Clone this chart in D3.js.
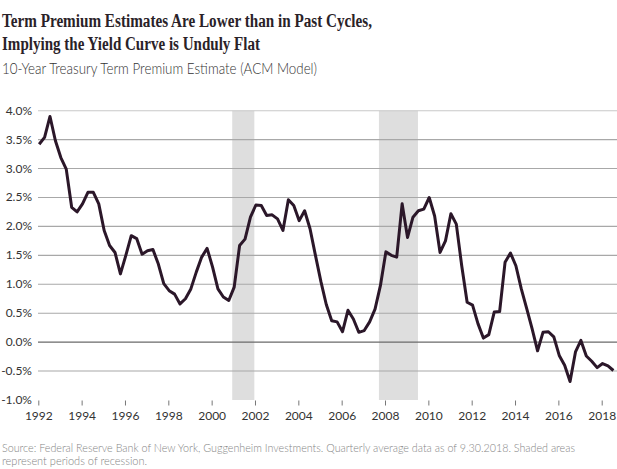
<!DOCTYPE html>
<html>
<head>
<meta charset="utf-8">
<script src="https://cdn.jsdelivr.net/npm/d3@7/dist/d3.min.js"></script>
<style>
  html, body { margin: 0; padding: 0; background: #fff; }
  svg { display: block; }
</style>
</head>
<body>
<svg id="chart" width="617" height="469"></svg>
<script>
// ---- Data ----
const startYear = 1992;
// Quarterly 10-year term premium estimate, %, 1992Q1 .. 2018Q3
const termPremium = [
  3.42, 3.54, 3.90, 3.48,   // 1992
  3.19, 2.99, 2.33, 2.25,   // 1993
  2.39, 2.59, 2.59, 2.39,   // 1994
  1.93, 1.67, 1.55, 1.18,   // 1995
  1.50, 1.84, 1.79, 1.52,   // 1996
  1.58, 1.60, 1.35, 1.01,   // 1997
  0.89, 0.83, 0.66, 0.75,   // 1998
  0.92, 1.21, 1.47, 1.62,   // 1999
  1.30, 0.92, 0.78, 0.72,   // 2000
  0.95, 1.67, 1.78, 2.16,   // 2001
  2.37, 2.36, 2.19, 2.20,   // 2002
  2.13, 1.93, 2.46, 2.36,   // 2003
  2.10, 2.27, 1.96, 1.50,   // 2004
  1.05, 0.65, 0.37, 0.35,   // 2005
  0.18, 0.55, 0.40, 0.17,   // 2006
  0.20, 0.35, 0.57, 0.98,   // 2007
  1.56, 1.50, 1.47, 2.39,   // 2008
  1.81, 2.16, 2.27, 2.30,   // 2009
  2.50, 2.18, 1.55, 1.75,   // 2010
  2.22, 2.04, 1.32, 0.69,   // 2011
  0.64, 0.32, 0.07, 0.13,   // 2012
  0.52, 0.53, 1.38, 1.54,   // 2013
  1.32, 0.92, 0.58, 0.23,   // 2014
  -0.15, 0.17, 0.18, 0.09,  // 2015
  -0.23, -0.40, -0.68, -0.17, // 2016
  0.03, -0.24, -0.33, -0.44,  // 2017
  -0.37, -0.41, -0.49         // 2018
];
// Recession periods (decimal years)
const recessionStart = [2000.95, 2007.72];
const recessionEnd   = [2001.97, 2009.52];
// Axis ticks
const yTicks = [4.0, 3.5, 3.0, 2.5, 2.0, 1.5, 1.0, 0.5, 0.0, -0.5, -1.0];
const xTicks = [1992, 1994, 1996, 1998, 2000, 2002, 2004, 2006, 2008, 2010, 2012, 2014, 2016, 2018];
// Texts
const titleLines = [
  "Term Premium Estimates Are Lower than in Past Cycles,",
  "Implying the Yield Curve is Unduly Flat"
];
const subtitle = "10-Year Treasury Term Premium Estimate (ACM Model)";
const sourceLines = [
  "Source: Federal Reserve Bank of New York, Guggenheim Investments. Quarterly average data as of 9.30.2018. Shaded areas",
  "represent periods of recession."
];

// ---- Drawing ----
const svg = d3.select("#chart");
const plotLeft = 38, plotRight = 617;

const x = d3.scaleLinear().domain([1992, 2018]).range([38.3, 601.7]);
const y = d3.scaleLinear().domain([-1, 4]).range([400, 110.7]);

const points = termPremium.map((v, i) => ({
  t: startYear + Math.floor(i / 4) + (i % 4) * 0.25 + 0.04,
  v: v
}));

// Titles
const titleFont = "'Liberation Serif', 'DejaVu Serif', serif";
svg.append("text").attr("x", 2).attr("y", 27)
  .attr("font-family", titleFont).attr("font-weight", "bold")
  .attr("font-size", 18).attr("fill", "#2a2228")
  .attr("textLength", 370).attr("lengthAdjust", "spacingAndGlyphs")
  .text(titleLines[0]);
svg.append("text").attr("x", 2).attr("y", 50)
  .attr("font-family", titleFont).attr("font-weight", "bold")
  .attr("font-size", 18).attr("fill", "#2a2228")
  .attr("textLength", 258).attr("lengthAdjust", "spacingAndGlyphs")
  .text(titleLines[1]);
svg.append("text").attr("x", 2).attr("y", 74)
  .attr("font-family", "Lato, 'Open Sans', sans-serif").attr("font-weight", 300)
  .attr("font-size", 15.5).attr("fill", "#333")
  .attr("textLength", 315).attr("lengthAdjust", "spacingAndGlyphs")
  .text(subtitle);

// Recession shading
svg.append("g").selectAll("rect")
  .data(recessionStart.map((s, i) => ({ s, e: recessionEnd[i] })))
  .join("rect")
  .attr("x", d => x(d.s))
  .attr("width", d => x(d.e) - x(d.s))
  .attr("y", y(4))
  .attr("height", y(-1) - y(4))
  .attr("fill", "#dedede");

// Gridlines
svg.append("g").selectAll("line")
  .data(yTicks.filter(d => d > -1))
  .join("line")
  .attr("x1", plotLeft).attr("x2", plotRight)
  .attr("y1", d => y(d)).attr("y2", d => y(d))
  .attr("stroke", d => d === 0 ? "#6a6a6a" : (d === 4 ? "#c8c8c8" : "#a8a8a8"))
  .attr("stroke-width", d => d === 0 ? 1.2 : 1.1);

// Y axis labels
svg.append("g").selectAll("text")
  .data(yTicks)
  .join("text")
  .attr("x", 32).attr("y", d => y(d) + 4)
  .attr("text-anchor", "end")
  .attr("font-family", "Lato, 'Open Sans', sans-serif")
  .attr("font-size", 12).attr("fill", "#333")
  .text(d => d.toFixed(1) + "%");

// X axis (ticks + labels, no domain line)
const xAxis = d3.axisBottom(x).tickValues(xTicks).tickSize(5).tickPadding(6).tickFormat(d3.format("d"));
const gx = svg.append("g").attr("transform", `translate(0, ${y(-1) + 0.5})`).call(xAxis);
gx.select(".domain").remove();
gx.selectAll(".tick line").attr("stroke", "#777");
gx.selectAll(".tick text")
  .attr("font-family", "Lato, 'Open Sans', sans-serif")
  .attr("font-size", 12).attr("fill", "#333");

// Line
const line = d3.line().x(d => x(d.t)).y(d => y(d.v));
svg.append("path")
  .datum(points)
  .attr("d", line)
  .attr("fill", "none")
  .attr("stroke", "#2b1729")
  .attr("stroke-width", 3)
  .attr("stroke-linejoin", "round");

// Source
svg.append("text").attr("x", 2).attr("y", 452)
  .attr("font-family", "Lato, 'Open Sans', sans-serif").attr("font-weight", 300)
  .attr("font-size", 11).attr("fill", "#858585")
  .attr("textLength", 573).attr("lengthAdjust", "spacingAndGlyphs")
  .text(sourceLines[0]);
svg.append("text").attr("x", 2).attr("y", 465)
  .attr("font-family", "Lato, 'Open Sans', sans-serif").attr("font-weight", 300)
  .attr("font-size", 11).attr("fill", "#858585")
  .text(sourceLines[1]);
</script>
</body>
</html>
